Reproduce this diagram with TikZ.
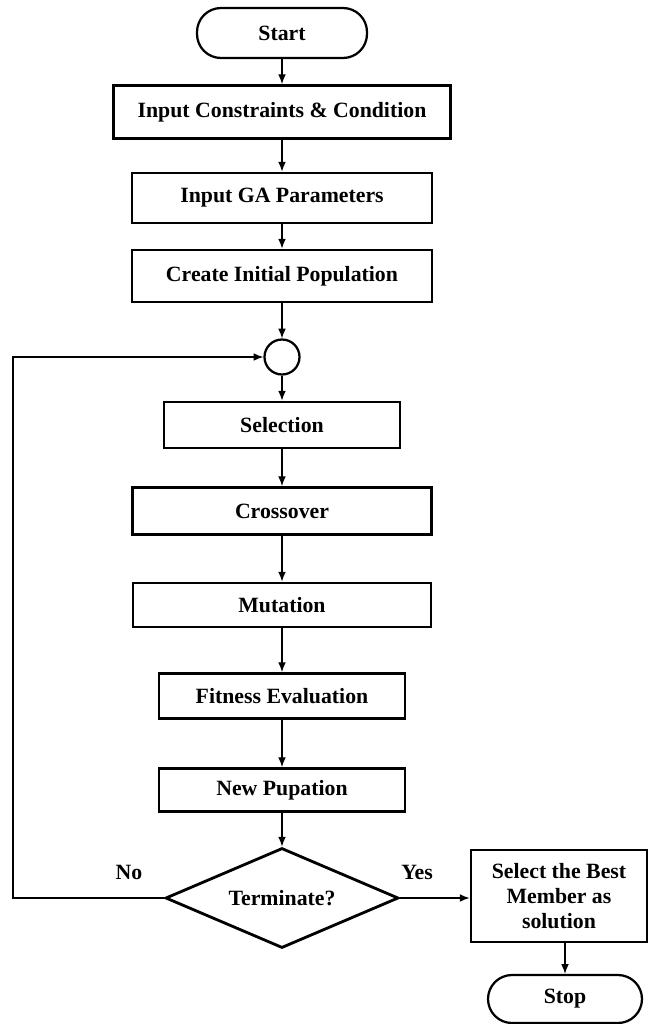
\documentclass[tikz,border=0pt]{standalone}
\usepackage{fontspec}
\setmainfont{Liberation Serif}
\usetikzlibrary{arrows.meta, shapes.geometric}

\begin{document}
\begin{tikzpicture}[font=\bfseries\fontsize{15.5}{17.5}\selectfont,
  box/.style={draw, line width=2pt, inner sep=2pt, align=center},
  term/.style={draw, line width=1.6pt, rounded corners=0.6cm},
  flow/.style={line width=0.8pt, -{Latex[length=7pt, width=5.5pt]}}]
  \useasboundingbox (0,0) rectangle (16.275,-25.6);
  \node[term, minimum width=4.25cm, minimum height=1.25cm] (start) at (7.05,-0.825) {Start};
  \foreach \nm/\lab/\y/\w/\h in {input/{Input Constraints \& Condition}/-2.8/8.425/1.325,
      param/{Input GA Parameters}/-4.95/7.5/1.25,
      init/{Create Initial Population}/-6.9/7.5/1.3,
      select/Selection/-10.625/5.9/1.15,
      cross/Crossover/-12.775/7.475/1.175,
      mutate/Mutation/-15.125/7.45/1.1,
      fitness/{Fitness Evaluation}/-17.4/6.15/1.125,
      newpop/{New Pupation}/-19.75/6.15/1.075}{%
    \node[box, minimum width=\w cm, minimum height=\h cm] (\nm) at (7.05,\y) {\lab};}
  \node[draw, circle, line width=1.6pt, minimum size=0.875cm] (junc) at (7.05,-8.925) {};
  \node[diamond, draw, line width=2pt, aspect=2.33, inner sep=0pt,
        minimum width=5.825cm, minimum height=2.5cm] (stopq) at (7.05,-22.45) {Terminate?};
  \node[box, minimum width=4.4cm, minimum height=2.3cm] (best) at (13.975,-22.4)
    {Select the Best\\Member as\\solution};
  \node[term, minimum width=3.85cm, minimum height=1.2cm] (stop) at (14.125,-24.975) {Stop};
  % main column
  \foreach \a/\b in {start/input, input/param, param/init, init/junc, junc/select,
                     select/cross, cross/mutate, mutate/fitness, fitness/newpop, newpop/stopq}{%
    \draw[flow] (\a) -- (\b);}
  % loop back
  \coordinate (back) at (0.325,-22.45);
  \draw[flow] (stopq.west) -- (back) |- (junc.west);
  \draw[flow] (stopq.east) -- (stopq.east -| best.west);
  \draw[flow] (best.south -| stop.north) -- (stop.north);
  \node (no) at (3.225,-21.8) {No};
  \node (yes) at (10.425,-21.8) {Yes};
\end{tikzpicture}
\end{document}
